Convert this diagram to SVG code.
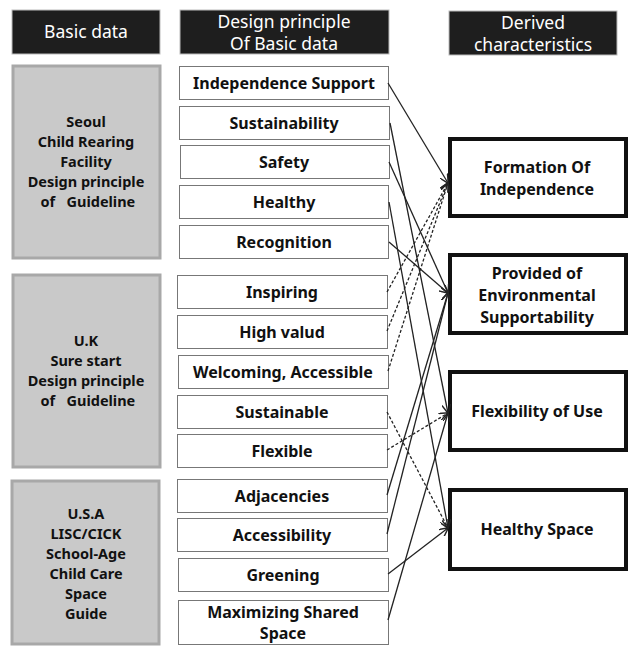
<svg xmlns="http://www.w3.org/2000/svg" width="629" height="646" viewBox="0 0 629 646">
<style>
.hdr{fill:#1e1e1e;stroke:#bbb;stroke-width:1}
.ht{fill:#fff;font-family:"Noto Sans","Liberation Sans",sans-serif;font-size:17.5px;text-anchor:middle}
.src{fill:#c9c9c9;stroke:#a8a8a8;stroke-width:3}
.st{fill:#111;font-family:"Noto Sans","Liberation Sans",sans-serif;font-size:14.5px;font-weight:bold;text-anchor:middle;white-space:pre}
.mid{fill:#fff;stroke:#777;stroke-width:1}
.mt{fill:#111;font-family:"Noto Sans","Liberation Sans",sans-serif;font-size:16px;font-weight:bold;text-anchor:middle}
.dst{fill:#fff;stroke:#111;stroke-width:4}
.dt{fill:#111;font-family:"Noto Sans","Liberation Sans",sans-serif;font-size:16px;font-weight:bold;text-anchor:middle}
.c{fill:none;stroke:#222;stroke-width:1.3;marker-end:url(#arr)}
.d{stroke-dasharray:3 2}
</style>
<defs>
<marker id="arr" viewBox="0 0 10 10" refX="9.5" refY="5" markerWidth="9" markerHeight="9" markerUnits="userSpaceOnUse" orient="auto">
<path d="M0,0 L10,5 L0,10" fill="none" stroke="#222" stroke-width="1.6"/>
</marker>
</defs>
<g id="header-basic"><rect class="hdr" x="12" y="10" width="148" height="44"/><text class="ht" x="86" y="38">Basic data</text></g>
<g id="header-principle"><rect class="hdr" x="180" y="10" width="209" height="44"/><text class="ht" x="284" y="28">Design principle</text><text class="ht" x="284" y="50">Of Basic data</text></g>
<g id="header-derived"><rect class="hdr" x="449" y="11" width="168" height="44"/><text class="ht" x="533" y="29">Derived</text><text class="ht" x="533" y="51">characteristics</text></g>

<g id="src-seoul"><rect class="src" x="13" y="66" width="147" height="192"/>
<text class="st" x="86" y="127">Seoul</text><text class="st" x="86" y="147">Child Rearing</text><text class="st" x="86" y="167">Facility</text><text class="st" x="86" y="187">Design principle</text><text class="st" x="86" y="207"> of   Guideline</text></g>
<g id="src-uk"><rect class="src" x="13" y="275" width="147" height="192"/>
<text class="st" x="86" y="346">U.K</text><text class="st" x="86" y="366">Sure start</text><text class="st" x="86" y="386">Design principle</text><text class="st" x="86" y="406"> of   Guideline</text></g>
<g id="src-usa"><rect class="src" x="12" y="481" width="147" height="163"/>
<text class="st" x="86" y="519">U.S.A</text><text class="st" x="86" y="539">LISC/CICK</text><text class="st" x="86" y="559">School-Age</text><text class="st" x="86" y="579">Child Care</text><text class="st" x="86" y="599">Space</text><text class="st" x="86" y="619">Guide</text></g>

<g id="p-independence"><rect class="mid" x="179.5" y="66.5" width="209" height="33"/><text class="mt" x="284" y="89">Independence Support</text></g>
<g id="p-sustainability"><rect class="mid" x="179.5" y="106.5" width="210" height="33"/><text class="mt" x="284" y="129">Sustainability</text></g>
<g id="p-safety"><rect class="mid" x="180.5" y="145.5" width="209" height="33"/><text class="mt" x="284" y="168">Safety</text></g>
<g id="p-healthy"><rect class="mid" x="179.5" y="185.5" width="209" height="33"/><text class="mt" x="284" y="208">Healthy</text></g>
<g id="p-recognition"><rect class="mid" x="179.5" y="225.5" width="209" height="33"/><text class="mt" x="284" y="248">Recognition</text></g>
<g id="p-inspiring"><rect class="mid" x="177.5" y="275.5" width="210" height="33"/><text class="mt" x="282" y="298">Inspiring</text></g>
<g id="p-highvalud"><rect class="mid" x="177.5" y="315.5" width="210" height="33"/><text class="mt" x="282" y="338">High valud</text></g>
<g id="p-welcoming"><rect class="mid" x="178.5" y="355.5" width="210" height="33"/><text class="mt" x="283" y="378">Welcoming, Accessible</text></g>
<g id="p-sustainable"><rect class="mid" x="177.5" y="395.5" width="210" height="33"/><text class="mt" x="282" y="418">Sustainable</text></g>
<g id="p-flexible"><rect class="mid" x="177.5" y="434.5" width="210" height="33"/><text class="mt" x="282" y="457">Flexible</text></g>
<g id="p-adjacencies"><rect class="mid" x="177.5" y="479.5" width="210" height="33"/><text class="mt" x="282" y="502">Adjacencies</text></g>
<g id="p-accessibility"><rect class="mid" x="177.5" y="518.5" width="210" height="33"/><text class="mt" x="282" y="541">Accessibility</text></g>
<g id="p-greening"><rect class="mid" x="178.5" y="558.5" width="210" height="33"/><text class="mt" x="283" y="581">Greening</text></g>
<g id="p-maximizing"><rect class="mid" x="178.5" y="600.5" width="210" height="44"/><text class="mt" x="283" y="618">Maximizing Shared</text><text class="mt" x="283" y="639">Space</text></g>

<g id="d-formation"><rect class="dst" x="450" y="139" width="176" height="77"/><text class="dt" x="537" y="173">Formation Of</text><text class="dt" x="537" y="195">Independence</text></g>
<g id="d-provided"><rect class="dst" x="450" y="255" width="176" height="78"/><text class="dt" x="537" y="279">Provided of</text><text class="dt" x="537" y="301">Environmental</text><text class="dt" x="537" y="323">Supportability</text></g>
<g id="d-flexibility"><rect class="dst" x="450" y="372" width="176" height="78"/><text class="dt" x="537" y="417">Flexibility of Use</text></g>
<g id="d-healthy"><rect class="dst" x="450" y="490" width="176" height="79"/><text class="dt" x="537" y="535">Healthy Space</text></g>

<g id="connectors">
<path class="c" d="M388,83 L448,183"/>
<path class="c" d="M390,123 L448,413"/>
<path class="c" d="M389,162 L448,293"/>
<path class="c" d="M389,202 L448,528"/>
<path class="c" d="M389,242 L448,293"/>
<path class="c d" d="M387,292 L448,183"/>
<path class="c d" d="M387,331 L448,183"/>
<path class="c d" d="M388,371 L448,183"/>
<path class="c d" d="M387,412 L448,528"/>
<path class="c d" d="M387,450 L448,413"/>
<path class="c" d="M387,495 L448,293"/>
<path class="c" d="M387,534 L448,293"/>
<path class="c" d="M388,574 L448,528"/>
<path class="c" d="M388,620 L448,413"/>
</g>
</svg>
